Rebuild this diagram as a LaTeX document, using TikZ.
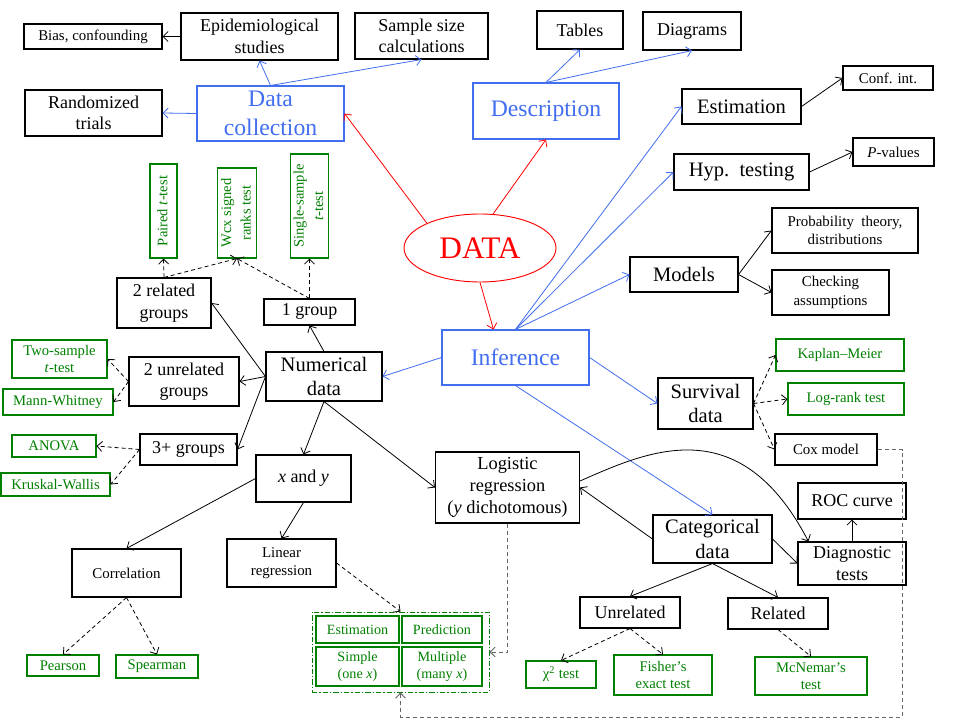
\documentclass[tikz,border=0pt]{standalone}
\usepackage{fontspec}
\setmainfont{Liberation Serif}
\usetikzlibrary{arrows.meta,shapes.geometric,calc}
\definecolor{myblue}{RGB}{66,110,240}
\definecolor{mygreen}{RGB}{0,128,0}
\newcommand{\fsBig}{\fontsize{17.75}{21.3}\selectfont}
\newcommand{\fsData}{\fontsize{23.5}{28}\selectfont}
\newcommand{\fsA}{\fontsize{15.4}{18.5}\selectfont}
\newcommand{\fsB}{\fontsize{13.5}{16.2}\selectfont}
\newcommand{\fsC}{\fontsize{11.2}{14}\selectfont}
\newcommand{\fsG}{\fontsize{11}{12.8}\selectfont}
\newcommand{\fsGr}{\fontsize{10.9}{14.5}\selectfont}
\newcommand{\mybox}[7]{%
  \pgfmathsetmacro{\bw}{(#5-#3)*0.75}%
  \pgfmathsetmacro{\bh}{(#6-#4)*0.75}%
  \node[#1, minimum width=\bw pt, minimum height=\bh pt] (#2) at ({(#3+#5)/2},{(#4+#6)/2}) {#7};}
\newcommand{\rottab}[1]{\rotatebox{90}{\begin{tabular}{@{}c@{}}#1\end{tabular}}}
\tikzset{
  base/.style={draw, inner sep=0pt, align=center, line width=0.8pt},
  blk/.style={base, text=black},
  blu/.style={base, draw=myblue, text=myblue, font=\fsBig},
  grn/.style={base, draw=mygreen, text=mygreen, font=\fsG},
  grnr/.style={base, draw=mygreen, text=mygreen, font=\fsGr},
  lone/.style={blk, font=\fsA},
  ltwo/.style={blk, font=\fsB},
  lsm/.style={blk, font=\fsC},
  arr/.style={-{Straight Barb[length=3.8pt,width=7.5pt]}, line width=0.6pt},
  barr/.style={arr, draw=myblue},
  rarr/.style={arr, draw=red},
  darr/.style={arr, dash pattern=on 3pt off 2.25pt},
  garr/.style={arr, draw=black!60, dash pattern=on 3pt off 2.25pt, line width=0.7pt},
}
\begin{document}
\begin{tikzpicture}[x=0.75pt,y=-0.75pt]
\fill[white] (0,0) rectangle (960,720);
\useasboundingbox (0,0) rectangle (960,720);

% ---- top-left
\mybox{lsm}{bias}{24}{24}{162}{49}{Bias, confounding}
\mybox{ltwo}{epid}{181}{13}{338}{60}{Epidemiological\\studies}
\mybox{ltwo}{sample}{355}{13}{488}{59}{Sample size\\calculations}
\mybox{ltwo}{rand}{25}{90}{162}{136}{Randomized\\trials}
\mybox{blu}{dc}{197}{86}{344}{141}{Data\\collection}
% ---- top-right
\mybox{ltwo}{tables}{537}{11}{623}{49}{Tables}
\mybox{ltwo}{diagrams}{643}{12}{741}{50}{Diagrams}
\mybox{blu}{desc}{473}{83}{619}{139}{Description}
\mybox{lone}{est}{682}{89}{801}{124}{Estimation}
\mybox{lsm}{conf}{843}{66}{933}{90}{Conf. int.}
\mybox{lone}{hyp}{674}{154}{809}{190}{Hyp.\ \ testing}
\mybox{lsm}{pval}{853}{138}{934}{166}{\textit{P}-values}
\mybox{lsm}{prob}{772}{208}{918}{253}{Probability\ \ theory,\\distributions}
\mybox{lsm}{check}{772}{270}{889}{315}{Checking\\assumptions}
\mybox{lone}{models}{630}{257}{738}{292}{Models}
% ---- centre
\node[ellipse, draw=red, line width=0.7pt, text=red, font=\fsData, minimum width=114pt, minimum height=51pt, inner sep=0pt] (data) at (480,248) {DATA};
\mybox{blu}{inf}{442}{330}{589}{385}{Inference}
% ---- survival
\mybox{grn}{km}{776}{339}{904}{371}{Kaplan–Meier}
\mybox{grn}{lr}{788}{383}{904}{415}{Log-rank test}
\mybox{lone}{surv}{658}{378}{753}{429}{Survival\\data}
\mybox{lsm}{cox}{775}{434}{877}{465}{Cox model}
% ---- categorical
\mybox{ltwo}{roc}{798}{483}{906}{519}{ROC curve}
\mybox{ltwo}{diag}{798}{542}{906}{585}{Diagnostic\\tests}
\mybox{lone}{cat}{653}{515}{772}{563}{Categorical\\data}
\mybox{blk,font=\fontsize{13.8}{16.6}\selectfont}{logi}{435.5}{452}{579.5}{523}{Logistic\\regression\\(\textit{y} dichotomous)}
\mybox{ltwo}{unrel}{580}{597}{680}{628}{Unrelated}
\mybox{ltwo}{rel}{728}{598}{828}{629}{Related}
\mybox{grn}{chi}{526}{661}{596}{688}{χ\textsuperscript{2} test}
\mybox{grn}{fisher}{614}{655}{712}{695}{Fisher’s\\exact test}
\mybox{grn}{mcn}{755}{657}{867}{695}{McNemar’s\\test}
% ---- regression container
\mybox{base, draw=mygreen, dash pattern=on 4pt off 1.5pt on 1pt off 1.5pt, line width=0.7pt}{cont}{312}{612}{489}{692}{}
\mybox{grn,font=\fontsize{10.6}{12.6}\selectfont}{estg}{316}{616}{399}{643}{Estimation}
\mybox{grn,font=\fontsize{10.6}{12.6}\selectfont}{pred}{402}{616}{482}{643}{Prediction}
\mybox{grn,font=\fontsize{10.6}{12.6}\selectfont}{simple}{316}{647}{399}{686}{Simple\\(one \textit{x})}
\mybox{grn,font=\fontsize{10.6}{12.6}\selectfont}{multi}{402}{647}{482}{686}{Multiple\\(many \textit{x})}
% ---- numerical
\mybox{lsm}{corr}{72}{549}{181}{597}{Correlation}
\mybox{lsm}{lin}{227}{539}{336}{587}{Linear\\regression}
\mybox{grn}{pear}{27}{655}{99}{676}{Pearson}
\mybox{grn}{spear}{116}{655}{198}{678}{Spearman}
\mybox{ltwo}{xy}{256}{455}{351}{502}{\textit{x} and \textit{y}}
\mybox{lone}{num}{266}{352}{382}{401}{Numerical\\data}
\mybox{ltwo}{unrel2}{129}{357}{239}{406}{2 unrelated\\groups}
\mybox{ltwo}{three}{140}{434}{237}{465}{3+ groups}
\mybox{grn}{twos}{12}{340}{107}{378}{Two-sample\\\textit{t}-test}
\mybox{grn}{mann}{3}{389}{113}{415}{Mann-Whitney}
\mybox{grn}{anova}{12}{435}{96}{457}{ANOVA}
\mybox{grn}{krus}{1}{473}{110}{496}{Kruskal-Wallis}
\mybox{ltwo}{rel2}{117}{278}{211}{328}{2 related\\groups}
\mybox{ltwo}{one}{264}{299}{355}{325}{1 group}
\mybox{grnr}{paired}{150}{164}{177}{258}{\rottab{Paired \textit{t}-test}}
\mybox{grnr}{wcx}{218}{168}{256}{258}{\rottab{Wcx signed\\ranks test}}
\mybox{grnr}{single}{292}{154}{327}{258}{\rottab{Single-sample\\\textit{t}-test}}

% ---- connectors: red
\draw[rarr] (data.155) -- (dc.east);
\draw[rarr] (data.69) -- (desc.south);
\draw[rarr] (data.south) -- ($(inf.north)+(-22,0)$);
% ---- blue
\draw[barr] (dc.north) -- (epid.south);
\draw[barr] (dc.north) -- (sample.south);
\draw[barr] (dc.west) -- (rand.east);
\draw[barr] (desc.north) -- (tables.south);
\draw[barr] (desc.north) -- (diagrams.south);
\draw[barr] (inf.north) -- (est.west);
\draw[barr] (inf.north) -- (hyp.west);
\draw[barr] (inf.north) -- (models.west);
\draw[barr] (inf.west) -- (num.east);
\draw[barr] (inf.east) -- (surv.west);
\draw[barr] (inf.south) -- (cat.north);
% ---- black
\draw[arr] (epid.west) -- (bias.east);
\draw[arr] (est.east) -- (conf.west);
\draw[arr] (hyp.east) -- (pval.west);
\draw[arr] (models.east) -- (prob.west);
\draw[arr] (models.east) -- (check.west);
\draw[arr] (cat.west) -- (logi.east);
\draw[arr] (cat.east) -- (diag.west);
\draw[arr] (diag.north) -- (roc.south);
\draw[arr] (cat.south) -- (unrel.north);
\draw[arr] (cat.south) -- (rel.north);
\draw[arr] ($(logi.east)+(0,-6.5)$) .. controls (650,450) and (740,410) .. ($(diag.north west)+(11,0)$);
\draw[arr] (num.west) -- (rel2.east);
\draw[arr] (num.north) -- (one.south);
\draw[arr] (num.west) -- (unrel2.east);
\draw[arr] (num.west) -- (three.east);
\draw[arr] (num.south) -- (xy.north);
\draw[arr] (num.south) -- (logi.west);
\draw[arr] (xy.west) -- (corr.north);
\draw[arr] (xy.south) -- (lin.north);
% ---- dashed
\draw[darr] (surv.east) -- (km.west);
\draw[darr] (surv.east) -- (lr.west);
\draw[darr] (surv.east) -- (cox.west);
\draw[darr] (unrel.south) -- (chi.north);
\draw[darr] (unrel.south) -- (fisher.north);
\draw[darr] (rel.south) -- (mcn.north);
\draw[darr] (rel2.north) -- (paired.south);
\draw[darr] (rel2.north) -- (wcx.south);
\draw[darr] (one.north) -- (wcx.south);
\draw[darr] (one.north) -- (single.south);
\draw[darr] (unrel2.west) -- (twos.east);
\draw[darr] (unrel2.west) -- (mann.east);
\draw[darr] (three.west) -- (anova.east);
\draw[darr] (three.west) -- (krus.east);
\draw[darr] (corr.south) -- (pear.north);
\draw[darr] (corr.south) -- (spear.north);
\draw[darr] (lin.east) -- (cont.north);
\coordinate (loopc) at (902,717);
\draw[garr] (cox.east) -| (loopc) -| (cont.south);
\draw[garr] (logi.south) |- (cont.east);
\end{tikzpicture}
\end{document}
